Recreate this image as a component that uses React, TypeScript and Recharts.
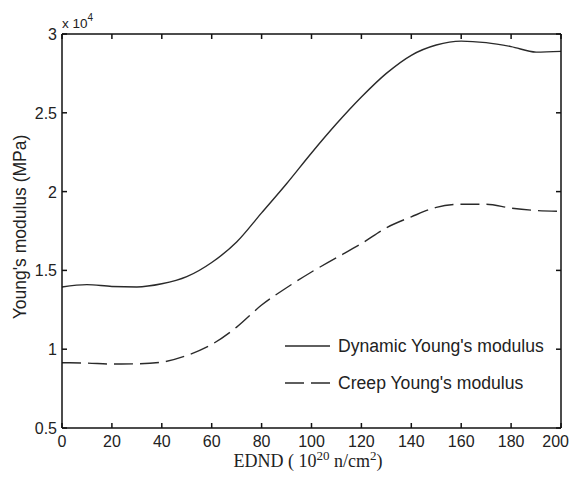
import { LineChart, Line, XAxis, YAxis, Legend, Label } from 'recharts';

// EDND (10^20 n/cm^2)
const edn = [0, 10, 20, 30, 40, 50, 60, 70, 80, 90, 100, 110, 120, 130, 140, 150, 160, 170, 180, 190, 200];
// Young's modulus, MPa
const dynamicModulus = [13950, 14100, 13980, 13950, 14150, 14600, 15500, 16800, 18650, 20500, 22450, 24300, 26000, 27500, 28650, 29300, 29550, 29450, 29200, 28850, 28900];
const creepModulus = [9140, 9120, 9060, 9070, 9180, 9600, 10300, 11400, 12800, 13900, 14900, 15800, 16700, 17700, 18400, 19000, 19200, 19200, 18950, 18800, 18750];

const xTicks = [0, 20, 40, 60, 80, 100, 120, 140, 160, 180, 200];
const yTicks = [5000, 10000, 15000, 20000, 25000, 30000];

const W = 570;
const H = 477;
const AXIS = '#111';
const CURVE = '#2a2a2a';
const SANS = '"Liberation Sans", Arial, sans-serif';
const SERIF = '"Liberation Serif", "Times New Roman", serif';

const chartData = edn.map((x, i) => ({
    x,
    dynamic: dynamicModulus[i],
    creep: creepModulus[i],
}));

const fmtY = (v: number) => String(v / 10000);

const BottomTick = ({ x, y, payload }: any) => {
    // last label would run past the window edge, so pin its right side
    const last = payload.value === 200;
    return (
        <g>
            <line x1={x} x2={x} y1={y} y2={y - 5} stroke={AXIS} strokeWidth={1.5} />
            <text
                x={last ? W - 1 : x}
                y={y + 19}
                textAnchor={last ? 'end' : 'middle'}
                fontFamily={SANS}
                fontSize={16}
                fill="#222"
            >
                {payload.value}
            </text>
        </g>
    );
};

const TopTick = ({ x, y }: any) => (
    <line x1={x} x2={x} y1={y} y2={y + 5} stroke={AXIS} strokeWidth={1.5} />
);

const LeftTick = ({ x, y, payload }: any) => (
    <g>
        <line x1={x} x2={x + 5} y1={y} y2={y} stroke={AXIS} strokeWidth={1.5} />
        <text x={x - 5} y={y + 6} textAnchor="end" fontFamily={SANS} fontSize={16} fill="#222">
            {fmtY(payload.value)}
        </text>
        {payload.value === 30000 && (
            <text x={x} y={y - 6} fontFamily={SANS} fontSize={13.5} fill="#222">
                x 10<tspan dy={-7} fontSize={10}>4</tspan>
            </text>
        )}
    </g>
);

const RightTick = ({ x, y }: any) => (
    <line x1={x} x2={x - 5} y1={y} y2={y} stroke={AXIS} strokeWidth={1.5} />
);

const legendItems = [
    { label: "Dynamic Young's modulus", dash: undefined },
    { label: "Creep Young's modulus", dash: '19 7' },
];

const LegendBox = () => (
    <svg width={280} height={60} style={{ display: 'block' }}>
        {legendItems.map((item, i) => (
            <g key={item.label} transform={`translate(0, ${12 + i * 37})`}>
                <line x1={5} x2={50} y1={0} y2={0} stroke={CURVE} strokeWidth={1.4} strokeDasharray={item.dash} />
                <text x={58} y={6} fontFamily={SANS} fontSize={17.6} fill="#222">
                    {item.label}
                </text>
            </g>
        ))}
    </svg>
);

export default function App() {
    return (
        <div style={{ position: 'absolute', left: 0, top: 0, background: '#fff' }}>
            <LineChart width={W} height={H} data={chartData} margin={{ top: 0, right: 0, bottom: 0, left: 0 }}>
                <XAxis
                    xAxisId="b"
                    dataKey="x"
                    type="number"
                    domain={[0, 200]}
                    ticks={xTicks}
                    height={49}
                    tickSize={0}
                    tickMargin={0}
                    tickLine={false}
                    axisLine={{ stroke: AXIS, strokeWidth: 1.5 }}
                    tick={<BottomTick />}
                    interval={0}
                >
                    <Label
                        content={() => (
                            <text x={308} y={467} textAnchor="middle" fontFamily={SERIF} fontSize={18} fill="#222">
                                EDND ( 10<tspan dy={-7} fontSize={13}>20</tspan>
                                <tspan dy={7}> n/cm</tspan>
                                <tspan dy={-7} fontSize={13}>2</tspan>
                                <tspan dy={7}>)</tspan>
                            </text>
                        )}
                    />
                </XAxis>
                <XAxis
                    xAxisId="t"
                    dataKey="x"
                    type="number"
                    orientation="top"
                    domain={[0, 200]}
                    ticks={xTicks}
                    height={34}
                    tickSize={0}
                    tickMargin={0}
                    tickLine={false}
                    axisLine={{ stroke: AXIS, strokeWidth: 1.5 }}
                    tick={<TopTick />}
                    interval={0}
                />
                <YAxis
                    yAxisId="l"
                    type="number"
                    domain={[5000, 30000]}
                    ticks={yTicks}
                    width={62}
                    tickSize={0}
                    tickMargin={0}
                    tickLine={false}
                    axisLine={{ stroke: AXIS, strokeWidth: 1.5 }}
                    tick={<LeftTick />}
                    interval={0}
                >
                    <Label
                        content={() => (
                            <text
                                x={20}
                                y={227}
                                transform="rotate(-90, 20, 227)"
                                textAnchor="middle"
                                dominantBaseline="central"
                                fontFamily={SANS}
                                fontSize={17.5}
                                fill="#222"
                            >
                                Young's modulus (MPa)
                            </text>
                        )}
                    />
                </YAxis>
                <YAxis
                    yAxisId="r"
                    type="number"
                    orientation="right"
                    domain={[5000, 30000]}
                    ticks={yTicks}
                    width={9}
                    tickSize={0}
                    tickMargin={0}
                    tickLine={false}
                    axisLine={{ stroke: AXIS, strokeWidth: 1.5 }}
                    tick={<RightTick />}
                    interval={0}
                />
                {/* horizontal + middle + center keeps the legend from taking plot space */}
                <Legend
                    layout="horizontal"
                    verticalAlign="middle"
                    align="center"
                    wrapperStyle={{ left: 280, top: 334, width: 280, height: 60 }}
                    content={() => <LegendBox />}
                />
                <Line
                    xAxisId="b"
                    yAxisId="l"
                    type="monotone"
                    dataKey="dynamic"
                    stroke={CURVE}
                    strokeWidth={1.4}
                    dot={false}
                    isAnimationActive={false}
                />
                {/* same domains as b/l, bound to the box axes so they render */}
                <Line
                    xAxisId="t"
                    yAxisId="r"
                    type="monotone"
                    dataKey="creep"
                    stroke={CURVE}
                    strokeWidth={1.4}
                    strokeDasharray="19 7"
                    dot={false}
                    isAnimationActive={false}
                />
            </LineChart>
        </div>
    );
}
